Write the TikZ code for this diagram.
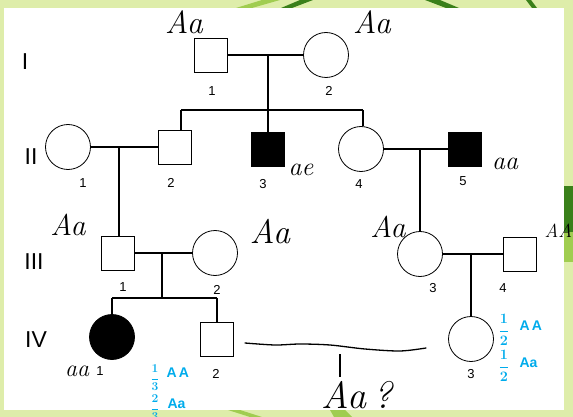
\documentclass[tikz,border=0pt]{standalone}
\usepackage{fontspec}
\setmainfont{Liberation Sans}
\newfontfamily\handfont{Latin Modern Roman}
\definecolor{penblue}{RGB}{0,172,236}
\definecolor{leaf}{RGB}{222,237,170}
\definecolor{leafmid}{RGB}{160,205,80}
\definecolor{leafdark}{RGB}{58,128,26}
\tikzset{
  male/.style={draw,line width=.8pt,minimum width=33pt,minimum height=34pt,inner sep=0pt},
  female/.style={draw,circle,line width=.8pt,minimum size=45pt,inner sep=0pt},
  ill/.style={fill=black},
  num/.style={font=\fontsize{13}{13}\selectfont},
  gen/.style={font=\fontsize{23}{23}\selectfont},
  pen/.style={font=\handfont\itshape\fontsize{#1}{#1}\selectfont},
  pen/.default=32,
  penb/.style={text=penblue,inner sep=0pt,font=\fontsize{#1}{#1}\selectfont\bfseries\boldmath},
  penb/.default=14,
}
\begin{document}
\begin{tikzpicture}[x=1pt,y=-1pt,line width=1.1pt]
 \useasboundingbox (0,0) rectangle (573,417);
 \fill[leaf] (0,0) rectangle (573,417);
 \fill[leafmid] (236,8) -- (262,0) -- (280,0) -- (252,8) -- cycle;
 \fill[leafdark] (281,8) -- (300,0) -- (313,0) -- (292,8) -- cycle;
 \fill[leafdark] (425,0) -- (440,0) -- (459,8) -- (446,8) -- cycle;
 \fill[leafdark] (526,0) -- (531,0) -- (537,8) -- (532,8) -- cycle;
 \fill[leafdark] (564,186) rectangle (573,232);
 \fill[leafmid] (564,232) rectangle (573,262);
 \fill[leafmid] (228,410) -- (240,410) -- (262,417) -- (250,417) -- cycle;
 \fill[leafmid] (330,410) -- (345,410) -- (352,417) -- (334,417) -- cycle;
 \fill[white] (4,8) rectangle (564,410);

 \node[gen] (gi) at (25,62) {I};
 \node[gen] (gii) at (31,157) {II};
 \node[gen] (giii) at (34,262) {III};
 \node[gen] (giv) at (36,340) {IV};

 % generation I
 \node[male] (p11) at (211,55) {};
 \node[female] (p12) at (326,55) {};
 \node[num] (n11) at (212,91) {1};
 \node[num] (n12) at (329,91) {2};
 \draw (p11) -- (p12);
 \coordinate (m1) at (268,55);
 \coordinate (s1) at (268,110);
 \coordinate (s1l) at (181,110);
 \coordinate (s1r) at (363,110);
 \draw (m1) -- (s1);
 \draw (s1l) -- (s1r);

 % generation II
 \node[female] (p21) at (68,147) {};
 \node[male] (p22) at (175,147) {};
 \node[male,ill] (p23) at (268,149) {};
 \node[female] (p24) at (361,149) {};
 \node[male,ill] (p25) at (465,149) {};
 \node[num] (n21) at (83,183) {1};
 \node[num] (n22) at (171,183) {2};
 \node[num] (n23) at (263,184) {3};
 \node[num] (n24) at (359,184) {4};
 \node[num] (n25) at (463,181) {5};
 \draw (s1l) -- (s1l |- p22.north);
 \draw (s1) -- (p23);
 \draw (s1r) -- (s1r |- p24.north);
 \draw (p21) -- (p22);
 \draw (p24) -- (p25);
 \coordinate (m2) at (119,147);
 \coordinate (m3) at (420,149);

 % generation III
 \node[male] (p31) at (118,253) {};
 \node[female] (p32) at (215,253) {};
 \node[female] (p33) at (420,254) {};
 \node[male] (p34) at (520,254) {};
 \node[num] (n31) at (123,287) {1};
 \node[num] (n32) at (217,290) {2};
 \node[num] (n33) at (433,288) {3};
 \node[num] (n34) at (503,288) {4};
 \draw (m2) -- (m2 |- p31.north);
 \draw (m3) -- (m3 |- p33.north);
 \draw (p31) -- (p32);
 \draw (p33) -- (p34);
 \coordinate (m4) at (162,253);
 \coordinate (s4) at (162,298);
 \coordinate (s4l) at (112,298);
 \coordinate (s4r) at (217,298);
 \coordinate (m5) at (471,254);
 \draw (m4) -- (s4);
 \draw (s4l) -- (s4r);

 % generation IV
 \node[female,ill] (p41) at (112,337) {};
 \node[male] (p42) at (217,339) {};
 \node[female] (p43) at (471,339) {};
 \node[num] (n41) at (100,371) {1};
 \node[num] (n42) at (216,374) {2};
 \node[num] (n43) at (471,374) {3};
 \draw (s4l) -- (p41);
 \draw (s4r) -- (p42);
 \draw (m5) -- (p43);

 % genotypes written in by hand
 \node[pen] (a11) at (184,22) {Aa};
 \node[pen] (a12) at (372,22) {Aa};
 \node[pen=26] (a23) at (301,170) {ae};
 \node[pen=26] (a25) at (505,164) {aa};
 \node[pen=30] (a31) at (68,225) {Aa};
 \node[pen=34] (a32) at (270,232) {Aa};
 \node[pen=30] (a33) at (388,227) {Aa};
 \node[pen=19,anchor=west,inner sep=0pt] (a34) at (544,231) {AA};
 \node[pen=24] (a41) at (77,371) {aa};
 \draw[line width=1.3pt,line cap=round] plot[smooth] coordinates
   {(245,343) (275,345) (300,344) (330,345) (365,349) (400,351) (426,348)};
 \draw[line width=1.3pt] (340,354) -- (340,377);
 \node[pen=38,inner sep=0pt] (q) at (357,395) {Aa\,?};

 \node[penb=12] (f1) at (155,378) {$\displaystyle\frac{1}{3}$};
 \node[penb,anchor=west] (f1t) at (166,373) {A\,A};
 \node[penb=12] (f2) at (155,408) {$\displaystyle\frac{2}{3}$};
 \node[penb,anchor=west] (f2t) at (167,404) {Aa};
 \node[penb] (f3) at (504,330) {$\displaystyle\frac{1}{2}$};
 \node[penb,anchor=west] (f3t) at (519,326) {A\,A};
 \node[penb] (f4) at (504,366) {$\displaystyle\frac{1}{2}$};
 \node[penb,anchor=west] (f4t) at (519,363) {Aa};
\end{tikzpicture}
\end{document}
